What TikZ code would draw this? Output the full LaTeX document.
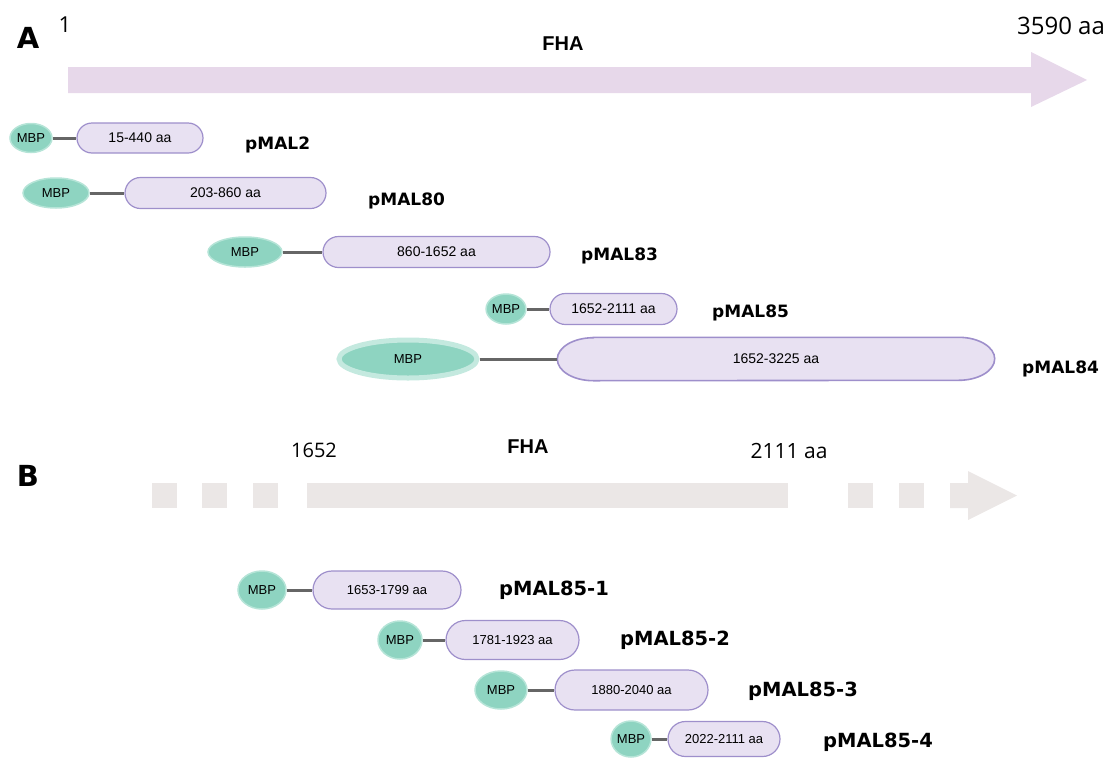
\documentclass[tikz,border=0pt]{standalone}
\usepackage{fontspec}
\setmainfont{Liberation Sans}
\newfontfamily\labfont{DejaVu Sans}
\newfontfamily\numfont{Open Sans}
\usetikzlibrary{shapes.geometric,shapes.misc}
\definecolor{mbpfill}{HTML}{8ED4C1}
\definecolor{mbpdraw}{HTML}{B5E4D7}
\definecolor{pillfill}{HTML}{E8E1F2}
\definecolor{pilldraw}{HTML}{9E8FCB}
\definecolor{linkgray}{HTML}{666666}
\definecolor{fhaA}{HTML}{E7D8EA}
\definecolor{fhaB}{HTML}{EBE7E6}
\begin{document}
\begin{tikzpicture}[x=1pt,y=-1pt,
  mbp/.style={ellipse, fill=mbpfill, draw=mbpdraw, line width=1.5pt, inner sep=0pt,
    font=\fontsize{13}{15}\selectfont},
  pill/.style={rounded rectangle, fill=pillfill, draw=pilldraw, line width=1.2pt, inner sep=0pt},
  pillA/.style={pill, font=\fontsize{14}{16}\selectfont},
  pillB/.style={pill, font=\fontsize{13}{15}\selectfont},
  link/.style={draw=linkgray, line width=3pt},
  labA/.style={anchor=base west, inner sep=0pt, font=\labfont\bfseries\fontsize{17}{20}\selectfont},
  labB/.style={anchor=base west, inner sep=0pt, font=\labfont\bfseries\fontsize{19.5}{22}\selectfont},
  panel/.style={inner sep=0pt, font=\labfont\bfseries\fontsize{29}{32}\selectfont},
  num/.style={inner sep=0pt, font=\numfont\fontsize{22}{24}\selectfont},
  fha/.style={inner sep=0pt, font=\bfseries\fontsize{20}{23}\selectfont}
]
\useasboundingbox (0,0) rectangle (1113,758);

% ---------- Panel A ----------
\node[panel] (lA) at (28,38) {A};
\node[num] (n1) at (65,25) {1};
\node[fha] (fhaAt) at (563,44) {FHA};
\node[num, font=\numfont\fontsize{24}{26}\selectfont] (n3590) at (1061,26) {3590 aa};
\fill[fhaA] (68,67) -- (1031,67) -- (1031,52) -- (1087,80) -- (1031,107) -- (1031,93) -- (68,93) -- cycle;

% pMAL2
\node[mbp, minimum width=42pt, minimum height=29pt] (m2) at (31,138) {MBP};
\node[pillA, minimum width=126pt, minimum height=30pt] (p2) at (140,138) {15-440 aa};
\draw[link] (m2) -- (p2);
\node[labA] (l2) at (245,149) {pMAL2};

% pMAL80
\node[mbp, minimum width=66pt, minimum height=30pt] (m80) at (56,193) {MBP};
\node[pillA, minimum width=201pt, minimum height=31pt] (p80) at (225.5,193) {203-860 aa};
\draw[link] (m80) -- (p80);
\node[labA] (l80) at (368,205) {pMAL80};

% pMAL83
\node[mbp, minimum width=74pt, minimum height=30pt] (m83) at (245,252) {MBP};
\node[pillA, minimum width=227pt, minimum height=31pt] (p83) at (436.5,252) {860-1652 aa};
\draw[link] (m83) -- (p83);
\node[labA] (l83) at (581,260) {pMAL83};

% pMAL85
\node[mbp, minimum width=36pt, minimum height=30pt] (m85) at (506,309) {MBP};
\node[pillA, minimum width=127pt, minimum height=31pt] (p85) at (613.5,309) {1652-2111 aa};
\draw[link] (m85) -- (p85);
\node[labA] (l85) at (712,317) {pMAL85};

% pMAL84
\node[mbp, draw=mbpdraw!80!white, line width=5pt, minimum width=138pt, minimum height=38pt] (m84) at (408,359) {MBP};
\node[rectangle, inner sep=0pt, minimum width=437pt, minimum height=43pt] (p84) at (776,359) {};
\draw[fill=pillfill, draw=pilldraw, line width=1.6pt]
  ([xshift=36pt]p84.north west) -- ([xshift=-36pt]p84.north east)
  arc[start angle=90, end angle=-90, x radius=36pt, y radius=21.5pt]
  -- ([xshift=36pt]p84.south west)
  arc[start angle=270, end angle=90, x radius=36pt, y radius=21.5pt] -- cycle;
\node[font=\fontsize{14}{16}\selectfont, inner sep=0pt] (t84) at (p84.center) {1652-3225 aa};
\draw[link] (m84) -- (p84.west);
\node[labA] (l84) at (1022,373) {pMAL84};

% ---------- Panel B ----------
\node[panel] (lB) at (28,476) {B};
\node[num, font=\numfont\fontsize{20}{22}\selectfont] (n1652) at (314,450) {1652};
\node[fha] (fhaBt) at (528,447) {FHA};
\node[num, font=\numfont\fontsize{21}{23}\selectfont] (n2111) at (789,451) {2111 aa};
\fill[fhaB] (152,483) rectangle (177,508);
\fill[fhaB] (202,483) rectangle (227,508);
\fill[fhaB] (253,483) rectangle (278,508);
\fill[fhaB] (307,483) rectangle (788,508);
\fill[fhaB] (848,483) rectangle (873,508);
\fill[fhaB] (899,483) rectangle (924,508);
\fill[fhaB] (950,483) -- (968,483) -- (968,471) -- (1017,495.5) -- (968,520) -- (968,508) -- (950,508) -- cycle;

% pMAL85-1
\node[mbp, minimum width=48pt, minimum height=38pt] (b1m) at (262,590) {MBP};
\node[pillB, minimum width=148pt, minimum height=38pt] (b1p) at (387,590) {1653-1799 aa};
\draw[link] (b1m) -- (b1p);
\node[labB] (b1l) at (499,595) {pMAL85-1};

% pMAL85-2
\node[mbp, minimum width=44pt, minimum height=38pt] (b2m) at (400,640) {MBP};
\node[pillB, minimum width=133pt, minimum height=39pt] (b2p) at (512.5,640) {1781-1923 aa};
\draw[link] (b2m) -- (b2p);
\node[labB] (b2l) at (620,645) {pMAL85-2};

% pMAL85-3
\node[mbp, minimum width=52pt, minimum height=38pt] (b3m) at (501,690) {MBP};
\node[pillB, minimum width=153pt, minimum height=40pt] (b3p) at (631.5,690) {1880-2040 aa};
\draw[link] (b3m) -- (b3p);
\node[labB] (b3l) at (748,696) {pMAL85-3};

% pMAL85-4
\node[mbp, minimum width=36pt, minimum height=36pt] (b4m) at (631,739) {MBP};
\node[pillB, minimum width=112pt, minimum height=35pt] (b4p) at (724,739) {2022-2111 aa};
\draw[link] (b4m) -- (b4p);
\node[labB] (b4l) at (823,747) {pMAL85-4};
\end{tikzpicture}
\end{document}
